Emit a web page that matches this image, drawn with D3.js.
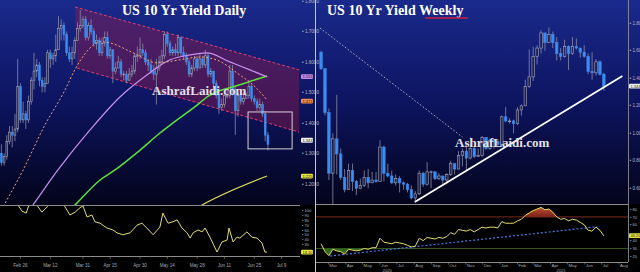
<!DOCTYPE html>
<html>
<head>
<meta charset="utf-8">
<script src="https://cdn.jsdelivr.net/npm/d3@7"></script>
<style>
  body { margin: 0; background: #000; }
  svg { display: block; }
</style>
</head>
<body>
<svg id="chart" width="640" height="272"></svg>
<script>
// ---------- daily chart (left) ----------
var dayOpen  = [1.30,1.27,1.29,1.34,1.37,1.36,1.38,1.52,1.41,1.43,1.41,1.47,1.54,1.57,1.59,1.54,1.52,1.53,1.63,1.61,1.62,1.64,1.71,1.72,1.69,1.63,1.61,1.63,1.67,1.71,1.72,1.74,1.68,1.72,1.70,1.66,1.67,1.63,1.66,1.68,1.62,1.64,1.57,1.58,1.60,1.56,1.56,1.54,1.56,1.57,1.62,1.62,1.64,1.63,1.60,1.59,1.57,1.56,1.58,1.60,1.62,1.69,1.66,1.63,1.64,1.63,1.68,1.63,1.62,1.60,1.56,1.58,1.61,1.58,1.61,1.59,1.62,1.56,1.57,1.53,1.49,1.45,1.46,1.49,1.49,1.57,1.51,1.44,1.49,1.47,1.48,1.49,1.52,1.48,1.47,1.45,1.46,1.43,1.36];
var dayHigh  = [1.33,1.30,1.36,1.39,1.39,1.43,1.61,1.53,1.47,1.44,1.49,1.55,1.63,1.61,1.60,1.55,1.55,1.64,1.64,1.63,1.69,1.75,1.74,1.73,1.70,1.65,1.65,1.68,1.73,1.77,1.75,1.75,1.73,1.74,1.71,1.69,1.68,1.68,1.70,1.70,1.65,1.64,1.60,1.62,1.61,1.57,1.57,1.58,1.59,1.63,1.65,1.68,1.66,1.64,1.61,1.61,1.59,1.61,1.62,1.64,1.70,1.70,1.67,1.65,1.66,1.69,1.68,1.65,1.63,1.61,1.59,1.62,1.62,1.63,1.62,1.64,1.63,1.58,1.57,1.54,1.52,1.48,1.50,1.51,1.59,1.59,1.52,1.50,1.50,1.50,1.50,1.54,1.53,1.49,1.48,1.48,1.47,1.44,1.37];
var dayLow   = [1.26,1.26,1.28,1.33,1.32,1.34,1.37,1.40,1.40,1.38,1.40,1.46,1.51,1.55,1.52,1.50,1.50,1.53,1.58,1.59,1.60,1.64,1.67,1.67,1.62,1.60,1.59,1.61,1.67,1.70,1.71,1.67,1.67,1.69,1.65,1.64,1.62,1.62,1.65,1.61,1.61,1.53,1.56,1.58,1.55,1.54,1.53,1.54,1.55,1.56,1.60,1.61,1.62,1.59,1.57,1.56,1.54,1.46,1.57,1.59,1.61,1.65,1.62,1.62,1.62,1.62,1.62,1.61,1.59,1.55,1.55,1.57,1.57,1.58,1.58,1.58,1.55,1.55,1.51,1.48,1.43,1.44,1.45,1.48,1.48,1.49,1.36,1.42,1.46,1.46,1.48,1.48,1.47,1.46,1.44,1.44,1.42,1.34,1.31];
var dayClose = [1.27,1.29,1.34,1.37,1.36,1.38,1.52,1.41,1.43,1.41,1.47,1.54,1.57,1.59,1.54,1.52,1.53,1.63,1.61,1.62,1.64,1.71,1.72,1.69,1.63,1.61,1.63,1.67,1.71,1.72,1.74,1.68,1.72,1.70,1.66,1.67,1.63,1.66,1.68,1.62,1.64,1.57,1.58,1.60,1.56,1.56,1.54,1.56,1.57,1.62,1.62,1.64,1.63,1.60,1.59,1.57,1.56,1.58,1.60,1.62,1.69,1.66,1.63,1.64,1.63,1.68,1.63,1.62,1.60,1.56,1.58,1.61,1.58,1.61,1.59,1.62,1.56,1.57,1.53,1.49,1.45,1.46,1.49,1.49,1.57,1.51,1.44,1.49,1.47,1.48,1.49,1.52,1.48,1.47,1.45,1.46,1.43,1.36,1.33];
var dayTickLabels = ['Feb 26', 'Mar 12', 'Mar 31', 'Apr 15', 'Apr 30', 'May 14', 'May 28', 'Jun 11', 'Jun 25', 'Jul 9'];
var dayTickIdx = [7, 18, 30, 40, 51, 61, 72, 82, 93, 103];
var dayYTicks = [1.2, 1.3, 1.4, 1.5, 1.6, 1.7, 1.8];

// moving averages read at sparse candle positions
var orangeIdx = [0, 8, 16, 23.4, 27, 31.9, 36.3, 40, 48.4, 57.2, 65.7, 73, 79, 87.7, 92.5, 97.7];
var orangeVal = [1.115, 1.246, 1.393, 1.508, 1.574, 1.639, 1.666, 1.662, 1.630, 1.597, 1.607, 1.616, 1.607, 1.557, 1.525, 1.475];
var purpleIdx = [8.7, 11.6, 20.8, 32.6, 43.6, 53.5, 62, 69.4, 75.6, 84, 91.4, 97.7];
var purpleVal = [1.095, 1.131, 1.246, 1.377, 1.485, 1.557, 1.607, 1.623, 1.630, 1.600, 1.574, 1.551];
var greenIdx = [23.4, 27.1, 36.3, 41.8, 51, 58.3, 63.1, 73, 75.6, 87.7, 97.7];
var greenVal = [1.098, 1.131, 1.213, 1.246, 1.311, 1.367, 1.400, 1.466, 1.485, 1.525, 1.554];
var yellowIdx = [69.4, 73.8, 97.7];
var yellowVal = [1.108, 1.131, 1.226];

// downward channel and highlight box
var chanIdx = [27.1, 109.5, 109.5, 27.8];
var chanVal = [1.780, 1.574, 1.370, 1.580];
var boxIdx = [90.7, 106.9];
var boxVal = [1.436, 1.315];

// lower daily oscillator
var oscIdx = [0, 6.1, 7.6, 9.1, 10.2, 11.6, 13.5, 14.9, 16.8, 19, 22.3, 23.4, 25.2, 27.1, 28.9, 30, 31.5, 33.3, 34.4, 36.3, 38.8, 41, 42.5, 44.7, 47.3, 49.9, 51.7, 53.5, 55.8, 58.3, 59.4, 61.3, 63.1, 64.6, 66.4, 68.3, 69.4, 70.5, 72.3, 73.8, 74.9, 76.7, 79.3, 81.1, 83, 83.7, 85.2, 86.6, 87.7, 90.3, 92.1, 94, 95.8, 96.9, 97.7];
var oscVal = [122, 112, 99, 95, 112, 124, 108, 97, 108, 124, 122, 108, 91, 97, 106, 110, 87, 91, 77, 74, 64, 60, 54, 50, 54, 70, 74, 64, 50, 66, 95, 74, 77, 81, 64, 54, 43, 54, 60, 56, 64, 45, 14, 35, 39, 64, 35, 45, 43, 56, 45, 43, 33, 14, 14];
var oscTicks = [10, 20, 30, 40, 50, 60, 70, 80, 90, 100];

// ---------- weekly chart (right) ----------
var wkOpen  = [1.59,1.47,1.15,0.71,0.96,0.85,0.68,0.59,0.73,0.65,0.60,0.62,0.68,0.64,0.66,0.65,0.90,0.71,0.69,0.64,0.67,0.64,0.63,0.59,0.53,0.56,0.71,0.63,0.72,0.72,0.67,0.69,0.66,0.70,0.78,0.74,0.84,0.87,0.82,0.89,0.83,0.84,0.97,0.89,0.95,0.94,0.92,1.12,1.09,1.09,1.07,1.17,1.20,1.34,1.41,1.56,1.62,1.73,1.66,1.72,1.66,1.58,1.56,1.63,1.58,1.63,1.62,1.59,1.56,1.45,1.44,1.52,1.43];
var wkHigh  = [1.60,1.47,1.18,1.00,1.28,0.89,0.74,0.78,0.78,0.66,0.67,0.73,0.74,0.72,0.72,0.95,0.91,0.78,0.73,0.70,0.69,0.65,0.64,0.62,0.58,0.73,0.72,0.79,0.73,0.72,0.71,0.69,0.71,0.80,0.78,0.87,0.89,0.92,0.97,0.91,0.89,0.98,0.97,0.96,0.96,0.95,1.13,1.19,1.11,1.10,1.19,1.21,1.39,1.61,1.63,1.64,1.75,1.73,1.77,1.74,1.70,1.62,1.68,1.64,1.70,1.69,1.62,1.64,1.58,1.59,1.54,1.53,1.44];
var wkLow   = [1.46,1.13,0.66,0.31,0.70,0.66,0.57,0.59,0.58,0.55,0.60,0.61,0.60,0.64,0.64,0.65,0.65,0.68,0.63,0.62,0.57,0.59,0.57,0.52,0.50,0.55,0.61,0.62,0.60,0.66,0.66,0.63,0.63,0.69,0.70,0.74,0.76,0.73,0.81,0.82,0.83,0.83,0.88,0.88,0.89,0.90,0.90,1.08,1.07,1.00,1.06,1.13,1.20,1.33,1.38,1.50,1.58,1.60,1.66,1.62,1.53,1.53,1.55,1.46,1.57,1.61,1.55,1.55,1.43,1.39,1.42,1.42,1.31];
var wkClose = [1.47,1.15,0.71,0.96,0.85,0.68,0.59,0.73,0.65,0.60,0.62,0.68,0.64,0.66,0.65,0.90,0.71,0.69,0.64,0.67,0.64,0.63,0.59,0.53,0.56,0.71,0.63,0.72,0.72,0.67,0.69,0.66,0.70,0.78,0.74,0.84,0.87,0.82,0.89,0.83,0.84,0.97,0.89,0.95,0.94,0.92,1.12,1.09,1.09,1.07,1.17,1.20,1.34,1.41,1.56,1.62,1.73,1.66,1.72,1.66,1.58,1.56,1.63,1.58,1.63,1.62,1.59,1.56,1.45,1.44,1.52,1.43,1.34];
var wkRsi = [36,26,21,29,27,26,23,29,28,27,28,30,29,31,31,43,38,37,36,38,37,36,34,32,33,43,40,44,43,42,44,43,45,50,48,54,53,52,54,51,54,57,56,57,57,56,64,62,62,62,65,67,72,75,78,80,82,79,80,76,70,67,68,65,67,66,63,60,53,52,57,53,46];
var wkYTicks = [0.6, 0.8, 1.0, 1.2, 1.4, 1.6, 1.8];
var rsiTicks = [20, 30, 40, 50, 60, 70, 80];
var yearLabels = ['2020', '2021'];
var yearDates = [new Date(2020, 5, 14), new Date(2021, 3, 20)];

// trend lines on the weekly chart
var trendDates = [new Date(2020, 7, 2), new Date(2021, 7, 7)];
var trendVal = [0.500, 1.417];
var dotDates = [new Date(2020, 1, 15), new Date(2020, 9, 26)];
var dotVal = [1.766, 0.973];
var rsiTrendDates = [new Date(2020, 2, 4), new Date(2021, 5, 23)];
var rsiTrendVal = [20.5, 57.6];

// last-value tags
var dayTagVal = [1.5518, 1.4715, 1.3432, 1.2258];
var dayTagColor = ['#c688ef', '#f08a50', '#eeeeee', '#e6e23c'];
var oscTagVal = 14.1;
var wkTagVal = 1.3432;
var rsiTagVal = 46.2;

var svg = d3.select('#chart');
var defs = svg.append('defs');

var grad = defs.append('linearGradient')
    .attr('id', 'bg')
    .attr('gradientUnits', 'userSpaceOnUse')
    .attr('x1', 0).attr('y1', 0).attr('x2', 0).attr('y2', 205);
grad.append('stop').attr('offset', '0%').attr('stop-color', '#1a2a8c');
grad.append('stop').attr('offset', '50%').attr('stop-color', '#0d1460');
grad.append('stop').attr('offset', '100%').attr('stop-color', '#03041a');

var redGrad = defs.append('linearGradient')
    .attr('id', 'redfill')
    .attr('gradientUnits', 'userSpaceOnUse')
    .attr('x1', 0).attr('y1', 205).attr('x2', 0).attr('y2', 217);
redGrad.append('stop').attr('offset', '0%').attr('stop-color', '#e06a40');
redGrad.append('stop').attr('offset', '100%').attr('stop-color', '#8a2218');

function clip(id, x, y, w, h) {
    defs.append('clipPath').attr('id', id)
        .append('rect').attr('x', x).attr('y', y).attr('width', w).attr('height', h);
}
clip('cLT', 0, 0, 300, 205);
clip('cLB', 0, 205, 300, 51);
clip('cRT', 316, 0, 312, 204);
clip('cRB', 316, 204, 312, 58);
clip('cOver', 316, 204, 312, 216.9 - 204);
clip('cUnder', 316, 248.5, 312, 14);

// backgrounds
svg.append('rect').attr('x', 0).attr('y', 0).attr('width', 640).attr('height', 272).attr('fill', '#000');
svg.append('rect').attr('x', 0).attr('y', 0).attr('width', 315).attr('height', 205).attr('fill', 'url(#bg)');
svg.append('rect').attr('x', 316).attr('y', 0).attr('width', 324).attr('height', 204).attr('fill', 'url(#bg)');

function drawCandles(g, xf, y, o, h, l, c, w) {
    var idx = d3.range(o.length);
    g.selectAll('line.wick')
        .data(idx)
        .enter()
        .append('line')
        .attr('class', 'wick')
        .attr('x1', i => xf(i)).attr('x2', i => xf(i))
        .attr('y1', i => y(h[i])).attr('y2', i => y(l[i]))
        .attr('stroke', '#8a8ca8')
        .attr('stroke-width', 0.8);
    g.selectAll('rect.body')
        .data(idx)
        .enter()
        .append('rect')
        .attr('class', 'body')
        .attr('x', i => xf(i) - w / 2)
        .attr('y', i => y(Math.max(o[i], c[i])))
        .attr('width', w)
        .attr('height', i => Math.max(0.8, Math.abs(y(o[i]) - y(c[i]))))
        .attr('fill', i => (c[i] >= o[i] ? 'rgba(12,16,60,0.7)' : '#3a8cf0'))
        .attr('stroke', i => (c[i] >= o[i] ? '#a8aabc' : '#3a8cf0'))
        .attr('stroke-width', 0.6);
}

var tickFont = 'Arial, "Liberation Sans", sans-serif';

function tag(x, y, color, txt) {
    svg.append('rect').attr('x', x).attr('y', y - 2.4).attr('width', 12).attr('height', 4.8)
        .attr('rx', 1.2).attr('fill', color);
    svg.append('text').attr('x', x + 1.5).attr('y', y + 1.5)
        .attr('font-family', tickFont).attr('font-size', 4).attr('fill', '#222')
        .text(txt);
}

// axis labels on the right side of a panel, hidden where a tag sits
function sideLabels(ticks, y, x, size, fmt, tagYs) {
    svg.append('g').selectAll('text')
        .data(ticks.filter(d => tagYs.every(t => Math.abs(y(d) - t) > 4)))
        .enter()
        .append('text')
        .attr('x', x).attr('y', d => y(d) + 1.6)
        .attr('font-family', tickFont).attr('font-size', size).attr('fill', '#b4b6c4')
        .text(d => '\u2022 ' + fmt(d));
}

// ================= LEFT: daily =================
var xD = d3.scaleLinear().domain([-0.5, 109.8]).range([0, 300]);
var yD = d3.scaleLinear().domain([1.131, 1.803]).range([205, 0]);

var lt = svg.append('g').attr('clip-path', 'url(#cLT)');

// channel
var chanPts = chanIdx.map((d, i) => [xD(d), yD(chanVal[i])]);
lt.append('polygon')
    .attr('points', chanPts.map(p => p.join(',')).join(' '))
    .attr('fill', 'rgba(150,26,72,0.42)');
lt.append('line')
    .attr('x1', chanPts[0][0]).attr('y1', chanPts[0][1])
    .attr('x2', chanPts[1][0]).attr('y2', chanPts[1][1])
    .attr('stroke', '#e0406a').attr('stroke-width', 1).attr('stroke-dasharray', '3,2');
lt.append('line')
    .attr('x1', chanPts[3][0]).attr('y1', chanPts[3][1])
    .attr('x2', chanPts[2][0]).attr('y2', chanPts[2][1])
    .attr('stroke', '#e0406a').attr('stroke-width', 1).attr('stroke-dasharray', '3,2');

drawCandles(lt, i => xD(i), yD, dayOpen, dayHigh, dayLow, dayClose, 1.8);

var lineD = d3.line().curve(d3.curveMonotoneX);
function maLine(idxArr, valArr, color, width, dash) {
    lt.append('path')
        .attr('d', lineD(idxArr.map((d, i) => [xD(d), yD(valArr[i])])))
        .attr('fill', 'none')
        .attr('stroke', color)
        .attr('stroke-width', width)
        .attr('stroke-dasharray', dash);
}
maLine(yellowIdx, yellowVal, '#e2dc5a', 1.2, null);
maLine(greenIdx, greenVal, '#5de23a', 1.5, null);
maLine(purpleIdx, purpleVal, '#c890ee', 1.2, null);
maLine(orangeIdx, orangeVal, '#f2a47a', 1, '2,2');

lt.append('rect')
    .attr('x', xD(boxIdx[0])).attr('y', yD(boxVal[0]))
    .attr('width', xD(boxIdx[1]) - xD(boxIdx[0]))
    .attr('height', yD(boxVal[1]) - yD(boxVal[0]))
    .attr('fill', 'none').attr('stroke', '#d4d4d8').attr('stroke-width', 1);

// left y axis labels + tags
sideLabels(dayYTicks, yD, 302, 4.6, d3.format('.4f'), dayTagVal.map(v => yD(v)));
dayTagVal.forEach((v, i) => tag(301, yD(v), dayTagColor[i], d3.format('.4f')(v)));

// lower oscillator
var yO = d3.scaleLinear().domain([10, 100]).range([254, 210.7]);
var lb = svg.append('g').attr('clip-path', 'url(#cLB)');
lb.append('path')
    .attr('d', d3.line()(oscIdx.map((d, i) => [xD(d), yO(oscVal[i])])))
    .attr('fill', 'none').attr('stroke', '#e6de6a').attr('stroke-width', 1);
svg.append('line').attr('x1', 0).attr('x2', 300).attr('y1', 205.5).attr('y2', 205.5)
    .attr('stroke', '#8c8c8c').attr('stroke-width', 1);
svg.append('line').attr('x1', 0).attr('x2', 300).attr('y1', 256.5).attr('y2', 256.5)
    .attr('stroke', '#8c8c8c').attr('stroke-width', 1);
sideLabels(oscTicks, yO, 302, 4, d => d, [yO(oscTagVal)]);
tag(301, yO(oscTagVal), '#e6e23c', d3.format('.2f')(oscTagVal));

// left x axis
svg.append('g').selectAll('text')
    .data(dayTickLabels)
    .enter()
    .append('text')
    .attr('x', (d, i) => xD(dayTickIdx[i]))
    .attr('y', 267)
    .attr('text-anchor', 'middle')
    .attr('font-family', tickFont).attr('font-size', 4.6).attr('fill', '#a8a8b0')
    .text(d => d);
svg.append('g').selectAll('line')
    .data(dayTickIdx)
    .enter()
    .append('line')
    .attr('x1', d => xD(d)).attr('x2', d => xD(d))
    .attr('y1', 256).attr('y2', 259)
    .attr('stroke', '#8c8c8c').attr('stroke-width', 0.6);

// ================= RIGHT: weekly =================
var wkDates = d3.timeMonday.range(new Date(2020, 1, 17), new Date(2021, 6, 6));
var xW = d3.scaleTime().domain([new Date(2020, 1, 8), new Date(2021, 7, 17)]).range([316, 628]);
var yW = d3.scaleLinear().domain([0.486, 1.9695]).range([204, 0]);

var rt = svg.append('g').attr('clip-path', 'url(#cRT)');
drawCandles(rt, i => xW(wkDates[i]), yW, wkOpen, wkHigh, wkLow, wkClose, 2.5);

rt.append('line')
    .attr('x1', xW(dotDates[0])).attr('y1', yW(dotVal[0]))
    .attr('x2', xW(dotDates[1])).attr('y2', yW(dotVal[1]))
    .attr('stroke', '#c4c6d8').attr('stroke-width', 0.9).attr('stroke-dasharray', '1.5,2');
rt.append('line')
    .attr('x1', xW(trendDates[0])).attr('y1', yW(trendVal[0]))
    .attr('x2', xW(trendDates[1])).attr('y2', yW(trendVal[1]))
    .attr('stroke', '#ffffff').attr('stroke-width', 1.8);

// right y axis
svg.append('line').attr('x1', 628.5).attr('x2', 628.5).attr('y1', 0).attr('y2', 262)
    .attr('stroke', '#9a9aa4').attr('stroke-width', 0.8);
sideLabels(wkYTicks, yW, 629.5, 4.6, d3.format('.4f'), [yW(wkTagVal)]);
tag(629, yW(wkTagVal), '#eeeeee', d3.format('.4f')(wkTagVal));

// RSI panel
var yR = d3.scaleLinear().domain([50, 70]).range([232.7, 216.9]);
var rb = svg.append('g').attr('clip-path', 'url(#cRB)');
var rsiPts = wkDates.map((d, i) => [xW(d), yR(wkRsi[i])]);
rb.append('path')
    .attr('clip-path', 'url(#cOver)')
    .attr('d', d3.area().x(p => p[0]).y0(yR(70)).y1(p => p[1])(rsiPts))
    .attr('fill', 'url(#redfill)').attr('opacity', 0.9);
rb.append('path')
    .attr('clip-path', 'url(#cUnder)')
    .attr('d', d3.area().x(p => p[0]).y0(yR(30)).y1(p => p[1])(rsiPts))
    .attr('fill', '#3c7a22').attr('opacity', 0.85);
rb.append('line').attr('x1', 316).attr('x2', 628).attr('y1', yR(70)).attr('y2', yR(70))
    .attr('stroke', '#7a2a22').attr('stroke-width', 1);
rb.append('line').attr('x1', 316).attr('x2', 628).attr('y1', yR(30)).attr('y2', yR(30))
    .attr('stroke', '#2e5a22').attr('stroke-width', 1);
rb.append('line')
    .attr('x1', xW(rsiTrendDates[0])).attr('y1', yR(rsiTrendVal[0]))
    .attr('x2', xW(rsiTrendDates[1])).attr('y2', yR(rsiTrendVal[1]))
    .attr('stroke', '#4a7ee6').attr('stroke-width', 1.2).attr('stroke-dasharray', '2,2');
rb.append('path')
    .attr('d', d3.line()(rsiPts))
    .attr('fill', 'none').attr('stroke', '#e6de6a').attr('stroke-width', 1);

svg.append('line').attr('x1', 316).attr('x2', 628).attr('y1', 204.5).attr('y2', 204.5)
    .attr('stroke', '#8c8c8c').attr('stroke-width', 1);
svg.append('line').attr('x1', 316).attr('x2', 628).attr('y1', 262.5).attr('y2', 262.5)
    .attr('stroke', '#8c8c8c').attr('stroke-width', 1);
sideLabels(rsiTicks, yR, 630, 4, d => d, [yR(rsiTagVal)]);
tag(629, yR(rsiTagVal), '#e6e23c', d3.format('.2f')(rsiTagVal));

// right x axis (months + years)
var months = xW.ticks(d3.timeMonth.every(1)).filter(d => xW(d) > 318 && xW(d) < 627);
svg.append('g').selectAll('text')
    .data(months)
    .enter()
    .append('text')
    .attr('x', d => xW(d) + 1)
    .attr('y', 267)
    .attr('font-family', tickFont).attr('font-size', 4.4).attr('fill', '#a8a8b0')
    .text(d => d3.timeFormat('%b')(d));
svg.append('g').selectAll('line')
    .data(months)
    .enter()
    .append('line')
    .attr('x1', d => xW(d)).attr('x2', d => xW(d))
    .attr('y1', 262).attr('y2', 264.5)
    .attr('stroke', '#8c8c8c').attr('stroke-width', 0.6);
svg.append('g').selectAll('text')
    .data(yearLabels)
    .enter()
    .append('text')
    .attr('x', (d, i) => xW(yearDates[i]))
    .attr('y', 271.5)
    .attr('text-anchor', 'middle')
    .attr('font-family', tickFont).attr('font-size', 4.2).attr('fill', '#a8a8b0')
    .text(d => d);

// panel divider
svg.append('line').attr('x1', 315.5).attr('x2', 315.5).attr('y1', 0).attr('y2', 272)
    .attr('stroke', '#c8c8cc').attr('stroke-width', 1);

// titles and watermarks
var serif = '"Liberation Serif", "Times New Roman", serif';
svg.append('text').attr('x', 122).attr('y', 15)
    .attr('font-family', serif).attr('font-weight', 'bold').attr('font-size', 14)
    .attr('fill', '#ffffff').text('US 10 Yr Yield Daily');
svg.append('text').attr('x', 327).attr('y', 15)
    .attr('font-family', serif).attr('font-weight', 'bold').attr('font-size', 14)
    .attr('fill', '#ffffff').text('US 10 Yr Yield Weekly');
svg.append('line').attr('x1', 425).attr('x2', 468).attr('y1', 18).attr('y2', 18)
    .attr('stroke', '#c8203c').attr('stroke-width', 1.5);
svg.append('text').attr('x', 152).attr('y', 95)
    .attr('font-family', serif).attr('font-weight', 'bold').attr('font-size', 13)
    .attr('fill', '#e2e2ea').text('AshrafLaidi.com');
svg.append('text').attr('x', 455).attr('y', 147)
    .attr('font-family', serif).attr('font-weight', 'bold').attr('font-size', 13)
    .attr('fill', '#e2e2ea').text('AshrafLaidi.com');
</script>
</body>
</html>
